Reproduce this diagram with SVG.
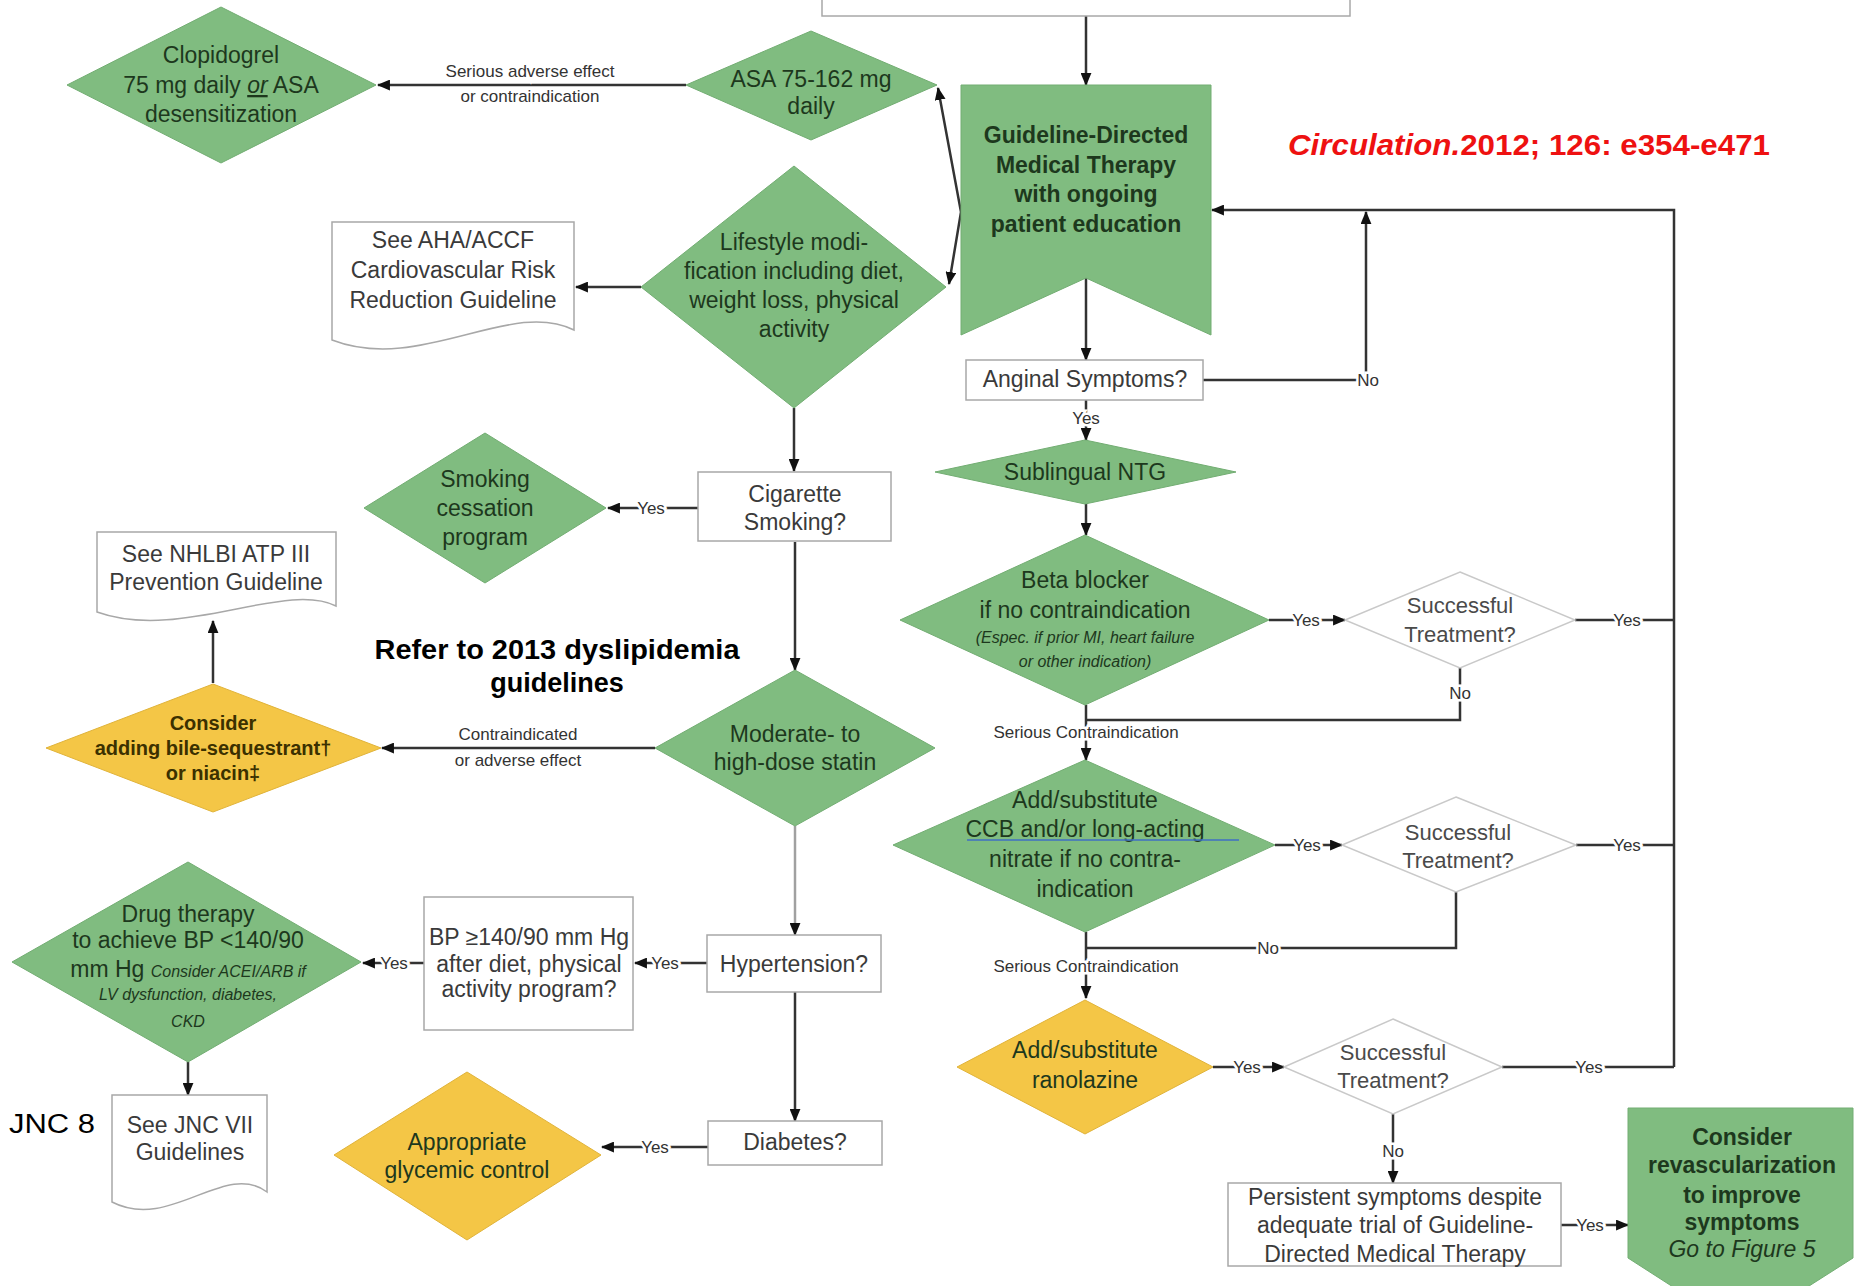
<svg xmlns="http://www.w3.org/2000/svg" width="1856" height="1286" viewBox="0 0 1856 1286">
  <defs>
    <style>
      text { font-family: "Liberation Sans", Arial, sans-serif; text-anchor: middle; }
      .g { fill: #80bc80; stroke: #72ad72; stroke-width: 1; }
      .y { fill: #f4c646; stroke: #e0b33a; stroke-width: 1; }
      .w { fill: #ffffff; stroke: #a8a8a8; stroke-width: 1.5; }
      .st { fill: #ffffff; stroke: #c9c9c9; stroke-width: 1.5; }
      .tg { fill: #1d381d; font-size: 23px; }
      .ty { fill: #3b3000; font-size: 20px; font-weight: bold; }
      .tw { fill: #3a3a3a; font-size: 23px; }
      .ts { fill: #4a4a4a; font-size: 22px; }
      .b { font-weight: bold; }
      .it { font-style: italic; font-size: 16px; }
      .c { fill: none; stroke: #333333; stroke-width: 2.5; }
      .cl { fill: none; stroke: #a0a0a0; stroke-width: 2.5; }
      .lbl { font-size: 17px; fill: #333333; stroke: #ffffff; stroke-width: 5; paint-order: stroke; }
    </style>
    <marker id="ah" viewBox="0 0 12 10" refX="11" refY="5" markerWidth="13" markerHeight="11" markerUnits="userSpaceOnUse" orient="auto-start-reverse">
      <path d="M0,0 L12,5 L0,10 z" fill="#111111"/>
    </marker>
  </defs>

  <rect width="1856" height="1286" fill="#ffffff"/>

  <!-- connectors -->
  <g id="connectors">
    <path class="c" d="M1086,16 V85" marker-end="url(#ah)"/>
    <path class="c" d="M686,85 H378" marker-end="url(#ah)"/>
    <path class="c" d="M938,88 L961,212 L949,284" marker-start="url(#ah)" marker-end="url(#ah)" stroke-width="1.8"/>
    <path class="c" d="M641,287 H576" marker-end="url(#ah)"/>
    <path class="c" d="M794,408 V471" marker-end="url(#ah)"/>
    <path class="c" d="M698,508 H608" marker-end="url(#ah)"/>
    <path class="c" d="M795,542 V670" marker-end="url(#ah)"/>
    <path class="c" d="M655,748 H382" marker-end="url(#ah)"/>
    <path class="c" d="M213,683 V621" marker-end="url(#ah)"/>
    <path class="cl" d="M795,826 V935" marker-end="url(#ah)"/>
    <path class="c" d="M707,963 H635" marker-end="url(#ah)"/>
    <path class="c" d="M424,963 H363" marker-end="url(#ah)"/>
    <path class="c" d="M188,1062 V1095" marker-end="url(#ah)"/>
    <path class="c" d="M795,992 V1121" marker-end="url(#ah)"/>
    <path class="c" d="M708,1147 H602" marker-end="url(#ah)"/>

    <path class="c" d="M1086,278 V360" marker-end="url(#ah)"/>
    <path class="c" d="M1203,380 H1366 V212" marker-end="url(#ah)"/>
    <path class="c" d="M1674,1067 V210 H1212" marker-end="url(#ah)"/>
    <path class="c" d="M1086,400 V440" marker-end="url(#ah)" stroke-width="1.5"/>
    <path class="c" d="M1086,504 V535" marker-end="url(#ah)"/>
    <path class="c" d="M1269,620 H1345" marker-end="url(#ah)"/>
    <path class="c" d="M1575,620 H1674"/>
    <path class="c" d="M1460,668 V720 H1086"/>
    <path class="c" d="M1086,705 V760" marker-end="url(#ah)"/>
    <path class="c" d="M1275,845 H1342" marker-end="url(#ah)"/>
    <path class="c" d="M1576,845 H1674"/>
    <path class="c" d="M1456,892 V948 H1086"/>
    <path class="c" d="M1086,932 V998" marker-end="url(#ah)"/>
    <path class="c" d="M1213,1067 H1284" marker-end="url(#ah)"/>
    <path class="c" d="M1502,1067 H1674"/>
    <path class="c" d="M1393,1113 V1183" marker-end="url(#ah)"/>
    <path class="c" d="M1561,1225 H1628" marker-end="url(#ah)"/>

    <!-- connector labels -->
    <text class="lbl" x="530" y="77">Serious adverse effect</text>
    <text class="lbl" x="530" y="102">or contraindication</text>
    <text class="lbl" x="651" y="514">Yes</text>
    <text class="lbl" x="518" y="740">Contraindicated</text>
    <text class="lbl" x="518" y="766">or adverse effect</text>
    <text class="lbl" x="665" y="969">Yes</text>
    <text class="lbl" x="394" y="969">Yes</text>
    <text class="lbl" x="655" y="1153">Yes</text>
    <text class="lbl" x="1368" y="386">No</text>
    <text class="lbl" x="1086" y="424">Yes</text>
    <text class="lbl" x="1306" y="626">Yes</text>
    <text class="lbl" x="1627" y="626">Yes</text>
    <text class="lbl" x="1460" y="699">No</text>
    <text class="lbl" x="1086" y="738">Serious Contraindication</text>
    <text class="lbl" x="1307" y="851">Yes</text>
    <text class="lbl" x="1627" y="851">Yes</text>
    <text class="lbl" x="1268" y="954">No</text>
    <text class="lbl" x="1086" y="972">Serious Contraindication</text>
    <text class="lbl" x="1247" y="1073">Yes</text>
    <text class="lbl" x="1589" y="1073">Yes</text>
    <text class="lbl" x="1393" y="1157">No</text>
    <text class="lbl" x="1590" y="1231">Yes</text>
  </g>

  <!-- nodes -->
  <g id="top-box">
    <rect class="w" x="822" y="-10" width="528" height="26"/>
  </g>

  <g id="gdmt">
    <polygon class="g" points="961,85 1211,85 1211,335 1086,278 961,335"/>
    <text class="tg b" x="1086" y="143">Guideline-Directed</text>
    <text class="tg b" x="1086" y="173">Medical Therapy</text>
    <text class="tg b" x="1086" y="202">with ongoing</text>
    <text class="tg b" x="1086" y="232">patient education</text>
  </g>

  <g id="asa">
    <polygon class="g" points="811,31 937,85 811,140 686,85"/>
    <text class="tg" x="811" y="87">ASA 75-162 mg</text>
    <text class="tg" x="811" y="114">daily</text>
  </g>

  <g id="clopidogrel">
    <polygon class="g" points="221,7 376,85 221,163 67,85"/>
    <text class="tg" x="221" y="63">Clopidogrel</text>
    <text class="tg" x="221" y="93">75 mg daily <tspan font-style="italic" text-decoration="underline">or</tspan> ASA</text>
    <text class="tg" x="221" y="122">desensitization</text>
  </g>

  <g id="lifestyle">
    <polygon class="g" points="794,166 946,287 794,408 641,287"/>
    <text class="tg" x="794" y="250">Lifestyle modi-</text>
    <text class="tg" x="794" y="279">fication including diet,</text>
    <text class="tg" x="794" y="308">weight loss, physical</text>
    <text class="tg" x="794" y="337">activity</text>
  </g>

  <g id="aha-doc">
    <path class="w" d="M332,222 H574 V330 C510,298 420,374 332,340 Z"/>
    <text class="tw" x="453" y="248">See AHA/ACCF</text>
    <text class="tw" x="453" y="278">Cardiovascular Risk</text>
    <text class="tw" x="453" y="308">Reduction Guideline</text>
  </g>

  <g id="cigarette">
    <rect class="w" x="698" y="472" width="193" height="69"/>
    <text class="tw" x="795" y="502">Cigarette</text>
    <text class="tw" x="795" y="530">Smoking?</text>
  </g>

  <g id="smoking-cessation">
    <polygon class="g" points="485,433 606,508 485,583 364,508"/>
    <text class="tg" x="485" y="487">Smoking</text>
    <text class="tg" x="485" y="516">cessation</text>
    <text class="tg" x="485" y="545">program</text>
  </g>

  <g id="nhlbi-doc">
    <path class="w" d="M97,532 H336 V606 C285,580 180,642 97,612 Z"/>
    <text class="tw" x="216" y="562">See NHLBI ATP III</text>
    <text class="tw" x="216" y="590">Prevention Guideline</text>
  </g>

  <g id="dyslipidemia-note">
    <text x="557" y="659" font-size="27" font-weight="bold" fill="#000" textLength="365" lengthAdjust="spacingAndGlyphs">Refer to 2013 dyslipidemia</text>
    <text x="557" y="692" font-size="27" font-weight="bold" fill="#000">guidelines</text>
  </g>

  <g id="statin">
    <polygon class="g" points="795,670 935,748 795,826 655,748"/>
    <text class="tg" x="795" y="742">Moderate- to</text>
    <text class="tg" x="795" y="770">high-dose statin</text>
  </g>

  <g id="bile-niacin">
    <polygon class="y" points="213,684 381,748 213,812 46,748"/>
    <text class="ty" x="213" y="730">Consider</text>
    <text class="ty" x="213" y="755">adding bile-sequestrant†</text>
    <text class="ty" x="213" y="780">or niacin‡</text>
  </g>

  <g id="hypertension">
    <rect class="w" x="707" y="935" width="174" height="57"/>
    <text class="tw" x="794" y="972">Hypertension?</text>
  </g>

  <g id="bp-check">
    <rect class="w" x="424" y="897" width="209" height="133"/>
    <text class="tw" x="529" y="945" font-size="21">BP ≥140/90 mm Hg</text>
    <text class="tw" x="529" y="972" font-size="21">after diet, physical</text>
    <text class="tw" x="529" y="997" font-size="21">activity program?</text>
  </g>

  <g id="drug-therapy">
    <polygon class="g" points="188,862 361,962 188,1062 12,962"/>
    <text class="tg" x="188" y="922">Drug therapy</text>
    <text class="tg" x="188" y="948">to achieve BP &lt;140/90</text>
    <text class="tg" x="188" y="977">mm Hg <tspan class="it">Consider ACEI/ARB if</tspan></text>
    <text class="tg it" x="188" y="1000">LV dysfunction, diabetes,</text>
    <text class="tg it" x="188" y="1027">CKD</text>
  </g>

  <g id="jnc-doc">
    <path class="w" d="M112,1095 H267 V1192 C225,1160 170,1232 112,1202 Z"/>
    <text class="tw" x="190" y="1133">See JNC VII</text>
    <text class="tw" x="190" y="1160">Guidelines</text>
  </g>

  <g id="jnc8-note">
    <text x="9" y="1133" font-size="27" fill="#000" style="text-anchor:start" textLength="86" lengthAdjust="spacingAndGlyphs">JNC 8</text>
  </g>

  <g id="diabetes">
    <rect class="w" x="708" y="1121" width="174" height="44"/>
    <text class="tw" x="795" y="1150">Diabetes?</text>
  </g>

  <g id="glycemic">
    <polygon class="y" points="467,1072 601,1155 467,1240 334,1155"/>
    <text class="tg" x="467" y="1150" fill="#3b3000">Appropriate</text>
    <text class="tg" x="467" y="1178" fill="#3b3000">glycemic control</text>
  </g>

  <g id="citation">
    <text x="1288" y="155" font-size="30" font-weight="bold" fill="#ee1111" style="text-anchor:start" textLength="482" lengthAdjust="spacingAndGlyphs"><tspan font-style="italic">Circulation.</tspan>2012; 126: e354-e471</text>
  </g>

  <g id="anginal">
    <rect class="w" x="966" y="360" width="237" height="40"/>
    <text class="tw" x="1085" y="387">Anginal Symptoms?</text>
  </g>

  <g id="ntg">
    <polygon class="g" points="1085,440 1236,472 1085,504 935,472"/>
    <text class="tg" x="1085" y="480">Sublingual NTG</text>
  </g>

  <g id="beta-blocker">
    <polygon class="g" points="1085,535 1269,620 1085,705 900,620"/>
    <text class="tg" x="1085" y="588">Beta blocker</text>
    <text class="tg" x="1085" y="618">if no contraindication</text>
    <text class="tg it" x="1085" y="643">(Espec. if prior MI, heart failure</text>
    <text class="tg it" x="1085" y="667">or other indication)</text>
  </g>

  <g id="success-1">
    <polygon class="st" points="1460,572 1575,620 1460,668 1345,620"/>
    <text class="ts" x="1460" y="613">Successful</text>
    <text class="ts" x="1460" y="642">Treatment?</text>
  </g>

  <g id="ccb-nitrate">
    <polygon class="g" points="1085,760 1275,845 1085,932 893,845"/>
    <text class="tg" x="1085" y="808">Add/substitute</text>
    <text class="tg" x="1085" y="837">CCB and/or long-acting</text>
    <text class="tg" x="1085" y="867">nitrate if no contra-</text>
    <text class="tg" x="1085" y="897">indication</text>
    <line x1="967" y1="840" x2="1239" y2="840" stroke="#3f6fc4" stroke-width="1.5"/>
  </g>

  <g id="success-2">
    <polygon class="st" points="1456,797 1576,845 1456,892 1342,845"/>
    <text class="ts" x="1458" y="840">Successful</text>
    <text class="ts" x="1458" y="868">Treatment?</text>
  </g>

  <g id="ranolazine">
    <polygon class="y" points="1085,1000 1213,1067 1085,1134 957,1067"/>
    <text class="tg" x="1085" y="1058" fill="#3b3000">Add/substitute</text>
    <text class="tg" x="1085" y="1088" fill="#3b3000">ranolazine</text>
  </g>

  <g id="success-3">
    <polygon class="st" points="1393,1019 1502,1067 1393,1114 1284,1067"/>
    <text class="ts" x="1393" y="1060">Successful</text>
    <text class="ts" x="1393" y="1088">Treatment?</text>
  </g>

  <g id="persistent">
    <rect class="w" x="1228" y="1183" width="333" height="83"/>
    <text class="tw" x="1395" y="1205">Persistent symptoms despite</text>
    <text class="tw" x="1395" y="1233">adequate trial of Guideline-</text>
    <text class="tw" x="1395" y="1262">Directed Medical Therapy</text>
  </g>

  <g id="revascularization">
    <polygon class="g" points="1628,1108 1853,1108 1853,1258 1740,1330 1628,1258"/>
    <text class="tg b" x="1742" y="1145" font-size="22">Consider</text>
    <text class="tg b" x="1742" y="1173" font-size="22">revascularization</text>
    <text class="tg b" x="1742" y="1203" font-size="22">to improve</text>
    <text class="tg b" x="1742" y="1230" font-size="22">symptoms</text>
    <text class="tg" x="1742" y="1257" font-size="22" font-style="italic">Go to Figure 5</text>
  </g>
</svg>
